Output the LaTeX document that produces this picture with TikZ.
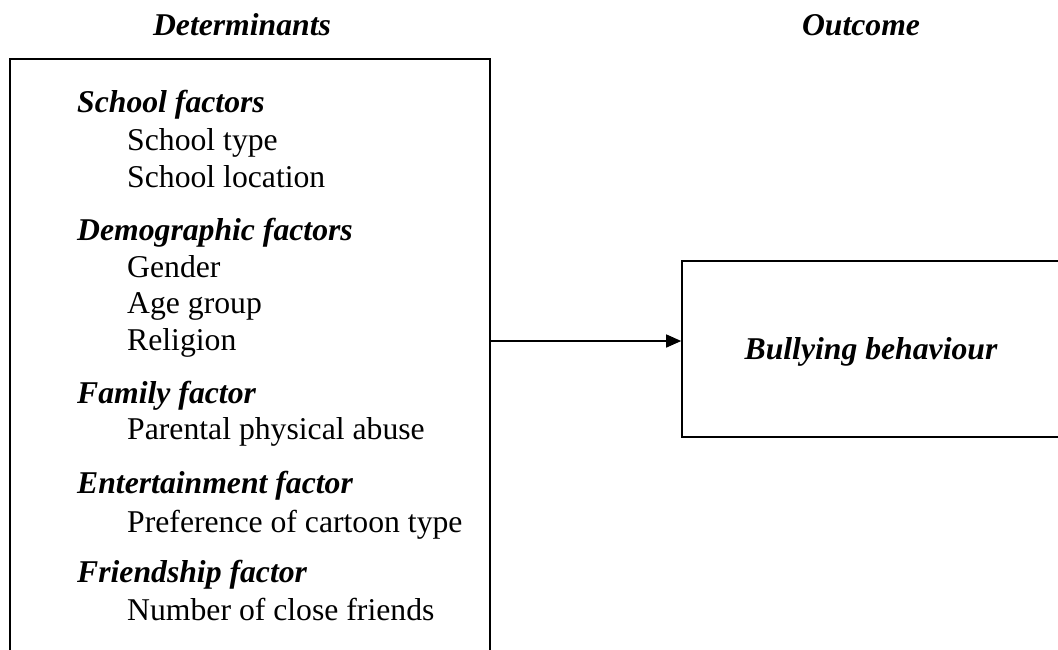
\documentclass[tikz,border=0pt]{standalone}
\usepackage{fontspec}
\setmainfont{Liberation Serif}
\usetikzlibrary{arrows.meta}
\begin{document}
\begin{tikzpicture}[x=1pt,y=-1pt,
  every node/.style={font=\fontsize{31.7}{38}\selectfont, inner sep=0pt},
  head/.style={anchor=base west, font=\fontsize{31.7}{38}\selectfont\bfseries\itshape},
  item/.style={anchor=base west},
  title/.style={anchor=base, font=\fontsize{31.7}{38}\selectfont\bfseries\itshape},
  frame/.style={draw=black, line width=1.6pt, rectangle},
  conn/.style={line width=1.4pt, -{Triangle[length=15pt,width=13pt]}}]
\useasboundingbox (0,0) rectangle (1058,649);
\clip (0,0) rectangle (1058,649);
\fill[white] (0,0) rectangle (1058,649);
% boxes
\node[frame, minimum width=480pt, minimum height=640pt] (lbox) at (250,379) {};
\node[frame, minimum width=400pt, minimum height=176pt] (rbox) at (882,349) {};
% titles
\node[title] (tdet) at (242,35) {Determinants};
\node[title] (tout) at (861,35) {Outcome};
% left box content
\node[head] (h1) at (77,112) {School factors};
\node[item] (i11) at (127,150) {School type};
\node[item] (i12) at (127,187) {School location};
\node[head] (h2) at (77,240) {Demographic factors};
\node[item] (i21) at (127,277) {Gender};
\node[item] (i22) at (127,313) {Age group};
\node[item] (i23) at (127,350) {Religion};
\node[head] (h3) at (77,403) {Family factor};
\node[item] (i31) at (127,439) {Parental physical abuse};
\node[head] (h4) at (77,493) {Entertainment factor};
\node[item] (i41) at (127,532) {Preference of cartoon type};
\node[head] (h5) at (77,582) {Friendship factor};
\node[item] (i51) at (127,620) {Number of close friends};
% right box content
\node[title] (bb) at (871,359) {Bullying behaviour};
% connector
\coordinate (ay) at (0,341);
\draw[conn] (ay -| lbox.east) -- (ay -| rbox.west);
\end{tikzpicture}
\end{document}
